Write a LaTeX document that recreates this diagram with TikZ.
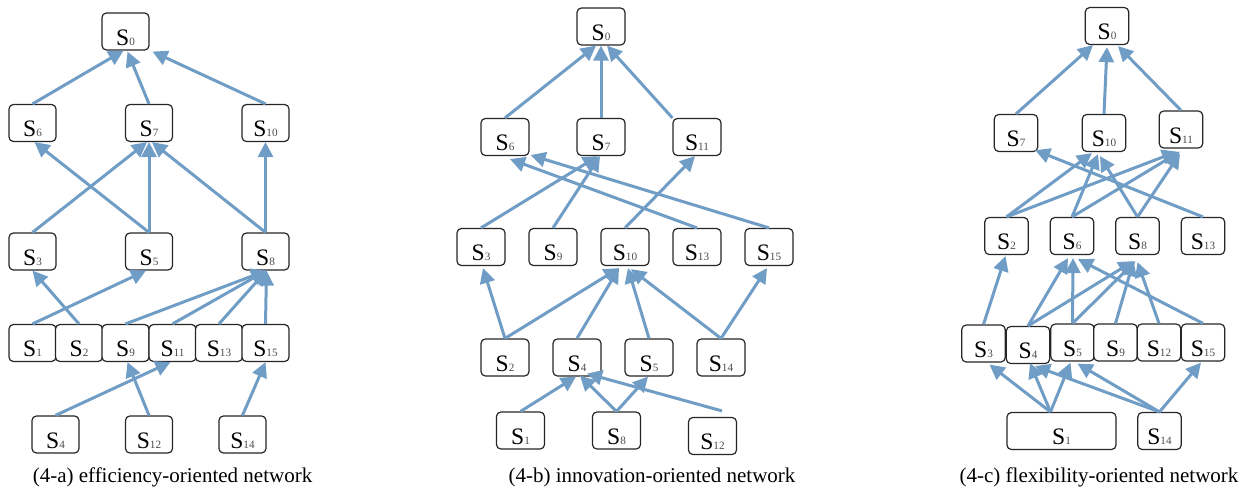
\documentclass[tikz,border=0pt]{standalone}
\usepackage{fontspec}
\setmainfont{Liberation Serif}
\usetikzlibrary{arrows.meta,calc}
\definecolor{linkblue}{RGB}{112,157,197}
\newcommand\lab[1]{S{\fontsize{5.6}{6}\selectfont\color{black!70}#1}}
\tikzset{
  box/.style={draw=black!85, line width=0.6pt, rounded corners=2.2pt, fill=white,
    inner sep=0pt, text height=16pt, text depth=2.5pt,
    minimum height=18.5pt, font=\fontsize{11.8}{13}\selectfont},
  wa/.style={box, minimum width=23.5pt},
  wb/.style={box, minimum width=24pt},
  wc/.style={box, minimum width=21.7pt},
  link/.style={draw=linkblue, line width=1.5pt,
    -{Triangle[length=7.5pt,width=7.5pt]}},
  caption/.style={anchor=base, inner sep=0pt, font=\fontsize{10.5}{12}\selectfont}
}
\begin{document}
\begin{tikzpicture}[x=0.5pt, y=-0.5pt]
\useasboundingbox (0,0) rectangle (1254,493);

% ---------------- (4-a) efficiency-oriented network ----------------
\node[wa] (a0)  at (125.5,31.5) {\lab{0}};
\node[wa] (a6)  at (32.5,123)   {\lab{6}};
\node[wa] (a7)  at (149,123)    {\lab{7}};
\node[wa] (a10) at (265.5,123)  {\lab{10}};
\node[wa] (a3)  at (32.5,251.5) {\lab{3}};
\node[wa] (a5)  at (149,251.5)  {\lab{5}};
\node[wa] (a8)  at (265.5,251.5){\lab{8}};
\node[wa] (a1)  at (32.5,343)   {\lab{1}};
\node[wa] (a2)  at (79,343)     {\lab{2}};
\node[wa] (a9)  at (125.5,343)  {\lab{9}};
\node[wa] (a11) at (172.5,343)  {\lab{11}};
\node[wa] (a13) at (219,343)    {\lab{13}};
\node[wa] (a15) at (265.5,343)  {\lab{15}};
\node[wa] (a4)  at (55.5,434.5) {\lab{4}};
\node[wa] (a12) at (149,434.5)  {\lab{12}};
\node[wa] (a14) at (242.5,434.5){\lab{14}};
\node[caption] (capa) at (172.5,482) {(4-a) efficiency-oriented network};

\draw[link] (a6.north)  -- ($(a0.south)+(-2,0)$);
\draw[link] (a7.north)  -- ($(a0.south)+(2,1)$);
\draw[link] (a10.north) -- ($(a0.south)+(27,1)$);
\draw[link] (a3.north)  -- ($(a7.south)+(-2,0)$);
\draw[link] (a5.north)  -- (a7.south);
\draw[link] (a5.north)  -- ($(a6.south)+(2,0)$);
\draw[link] (a8.north)  -- ($(a7.south)+(3,0)$);
\draw[link] (a8.north)  -- (a10.south);
\draw[link] (a1.north)  -- ($(a5.south)+(-3,0)$);
\draw[link] (a2.north)  -- (a3.south);
\draw[link] (a9.north)  -- ($(a8.south)+(1,0)$);
\draw[link] (a11.north) -- ($(a8.south)+(1,0)$);
\draw[link] (a13.north) -- ($(a8.south)+(1,0)$);
\draw[link] (a15.north) -- ($(a8.south)+(1,0)$);
\draw[link] (a4.north)  -- ($(a11.south)+(-2,0)$);
\draw[link] (a12.north) -- ($(a9.south)+(2,0)$);
\draw[link] (a14.north) -- (a15.south);

% ---------------- (4-b) innovation-oriented network ----------------
\node[wb] (b0)  at (601,26.5)   {\lab{0}};
\node[wb] (b6)  at (505,137)    {\lab{6}};
\node[wb] (b7)  at (601,137)    {\lab{7}};
\node[wb] (b11) at (697,137)    {\lab{11}};
\node[wb] (b3)  at (481,247)    {\lab{3}};
\node[wb] (b9)  at (553,247)    {\lab{9}};
\node[wb] (b10) at (625,247)    {\lab{10}};
\node[wb] (b13) at (697,247)    {\lab{13}};
\node[wb] (b15) at (769,247)    {\lab{15}};
\node[wb] (b2)  at (505,357.5)  {\lab{2}};
\node[wb] (b4)  at (577,357.5)  {\lab{4}};
\node[wb] (b5)  at (649,357.5)  {\lab{5}};
\node[wb] (b14) at (721,357.5)  {\lab{14}};
\node[wb] (b1)  at (520.5,430.5){\lab{1}};
\node[wb] (b8)  at (616.5,430.5){\lab{8}};
\node[wb] (b12) at (712.5,436)  {\lab{12}};
\node[caption] (capb) at (652,482) {(4-b) innovation-oriented network};
\coordinate (b12top) at ($(b12.north)+(9.5,-6)$);

\draw[link] (b6.north)       -- ($(b0.south)+(-5,0)$);
\draw[link] (b7.north)       -- (b0.south);
\draw[link] (b11.north west) -- ($(b0.south)+(6,0)$);
\draw[link] (b3.north)  -- ($(b7.south)+(-3,0)$);
\draw[link] (b9.north)  -- ($(b7.south)+(-1,0)$);
\draw[link] (b10.north) -- ($(b11.south)+(-2,0)$);
\draw[link] (b13.north) -- ($(b6.south)+(5,3)$);
\draw[link] (b15.north) -- ($(b6.south east)+(1,-1)$);
\draw[link] (b2.north)  -- ($(b3.south)+(2,2)$);
\draw[link] (b2.north)  -- ($(b10.south)+(-6,2)$);
\draw[link] (b4.north)  -- ($(b10.south)+(-6,2)$);
\draw[link] (b5.north)  -- ($(b10.south)+(3,2)$);
\draw[link] (b14.north) -- ($(b10.south)+(6,3)$);
\draw[link] (b14.north) -- ($(b15.south)+(-2,2)$);
\draw[link] (b1.north)  -- ($(b4.south)+(-1,0)$);
\draw[link] (b8.north)  -- ($(b4.south)+(3,-1)$);
\draw[link] (b8.north)  -- ($(b5.south)+(-1,0)$);
\draw[link] (b12top)    -- ($(b4.south)+(10,-3)$);

% ---------------- (4-c) flexibility-oriented network ----------------
\node[wc] (c0)  at (1107,26)    {\lab{0}};
\node[wc] (c7)  at (1016,133)   {\lab{7}};
\node[wc] (c10) at (1104,133)   {\lab{10}};
\node[wc] (c11) at (1181,129.5) {\lab{11}};
\node[wc] (c2)  at (1006.5,236) {\lab{2}};
\node[wc] (c6)  at (1072,236)   {\lab{6}};
\node[wc] (c8)  at (1137.5,236) {\lab{8}};
\node[wc] (c13) at (1203,236)   {\lab{13}};
\node[wc] (c3)  at (983.5,343.5){\lab{3}};
\node[wc] (c4)  at (1028,345)   {\lab{4}};
\node[wc] (c5)  at (1072.5,342.5){\lab{5}};
\node[wc] (c9)  at (1115.5,342.5){\lab{9}};
\node[wc] (c12) at (1159,342.5) {\lab{12}};
\node[wc] (c15) at (1203,342.5) {\lab{15}};
\node[box, minimum width=54.5pt] (c1) at (1061.5,431) {\lab{1}};
\node[wc] (c14) at (1159.5,431) {\lab{14}};
\node[caption] (capc) at (1099,482) {(4-c) flexibility-oriented network};
\coordinate (c1top) at ($(c1.north)+(-11,0)$);

\draw[link] (c7.north)  -- ($(c0.south)+(-14,0)$);
\draw[link] (c10.north) -- ($(c0.south)+(0,2)$);
\draw[link] (c11.north) -- ($(c0.south)+(11,1)$);
\draw[link] (c2.north)  -- ($(c10.south)+(-12,1)$);
\draw[link] (c2.north)  -- ($(c11.south)+(-4,3)$);
\draw[link] (c6.north)  -- ($(c10.south)+(-6,2)$);
\draw[link] (c6.north)  -- ($(c11.south)+(-1,3)$);
\draw[link] (c8.north)  -- ($(c10.south)+(-4,4)$);
\draw[link] (c8.north)  -- ($(c11.south)+(-1,5)$);
\draw[link] (c13.north) -- ($(c7.south)+(19,-2)$);
\draw[link] (c3.north)  -- ($(c2.south)+(-1,1)$);
\draw[link] (c4.north)  -- ($(c6.south)+(-4,3)$);
\draw[link] (c4.north)  -- ($(c8.south)+(-4,6)$);
\draw[link] (c5.north)  -- ($(c6.south)+(1,3)$);
\draw[link] (c5.north)  -- ($(c8.south)+(-2,6)$);
\draw[link] (c9.north)  -- ($(c8.south)+(-4,6)$);
\draw[link] (c12.north) -- ($(c8.south)+(0,7)$);
\draw[link] (c15.north) -- ($(c6.south)+(6,4)$);
\draw[link] (c1top)     -- ($(c3.south)+(6,2)$);
\draw[link] (c1top)     -- ($(c4.south)+(2,-1)$);
\draw[link] (c1top)     -- ($(c5.south)+(-2,1)$);
\draw[link] (c14.north) -- ($(c4.south)+(7,2)$);
\draw[link] (c14.north) -- ($(c5.south)+(5,2)$);
\draw[link] (c14.north) -- ($(c15.south)+(-2,1)$);
\end{tikzpicture}
\end{document}
